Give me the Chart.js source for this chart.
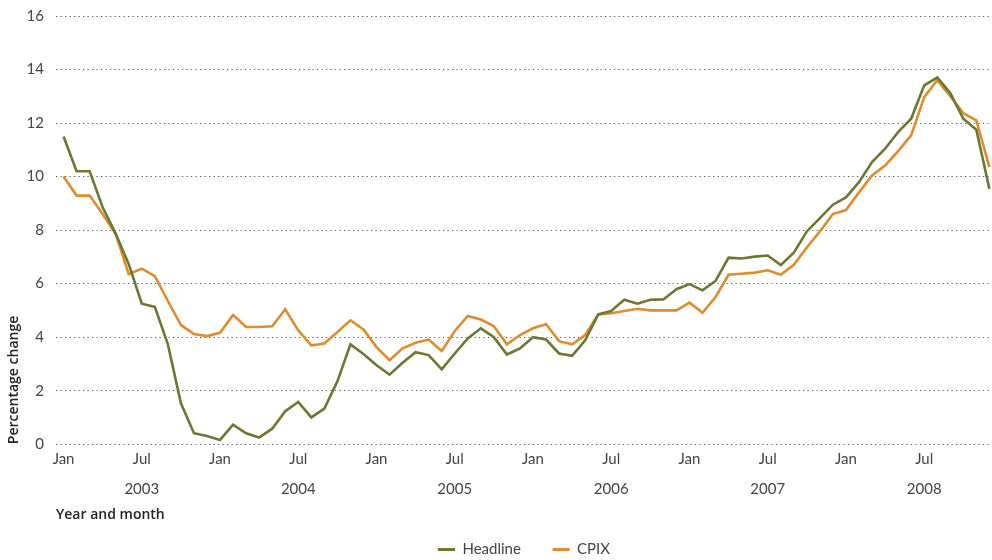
<!DOCTYPE html>
<html>
<head>
<meta charset="utf-8">
<script src="https://cdn.jsdelivr.net/npm/chart.js@4/dist/chart.umd.min.js"></script>
<style>
  html, body { margin: 0; padding: 0; background: #fff; }
  #wrap { width: 992px; height: 560px; }
</style>
</head>
<body>
<div id="wrap"><canvas id="c"></canvas></div>
<script>
// monthly, Jan 2003 .. Dec 2008 (index 0..71)
var years = ['2003', '2004', '2005', '2006', '2007', '2008'];
var tickMonths = [0, 6, 12, 18, 24, 30, 36, 42, 48, 54, 60, 66];
var yTicks = [0, 2, 4, 6, 8, 10, 12, 14, 16];

var headline = [
    11.5, 10.2, 10.2, 8.85, 7.86, 6.73, 5.25, 5.13, 3.73, 1.53, 0.41, 0.31,
    0.16, 0.73, 0.41, 0.25, 0.58, 1.23, 1.58, 1.0, 1.33, 2.35, 3.73, 3.37,
    2.95, 2.6, 3.04, 3.44, 3.33, 2.8, 3.39, 3.95, 4.33, 4.0, 3.35, 3.58,
    4.0, 3.91, 3.39, 3.3, 3.88, 4.85, 4.98, 5.4, 5.25, 5.4, 5.41, 5.79,
    5.98, 5.75, 6.1, 6.97, 6.94, 7.01, 7.05, 6.69, 7.16, 7.95, 8.45, 8.95,
    9.22, 9.79, 10.54, 11.04, 11.66, 12.16, 13.41, 13.7, 13.12, 12.16, 11.75, 9.54
];
var cpix = [
    10.0, 9.29, 9.29, 8.6, 7.85, 6.35, 6.56, 6.28, 5.35, 4.45, 4.12, 4.04,
    4.16, 4.83, 4.38, 4.38, 4.41, 5.04, 4.25, 3.69, 3.76, 4.19, 4.63, 4.29,
    3.63, 3.14, 3.58, 3.79, 3.91, 3.48, 4.23, 4.79, 4.66, 4.41, 3.73, 4.08,
    4.33, 4.48, 3.85, 3.73, 4.08, 4.85, 4.89, 4.98, 5.06, 5.0, 5.0, 5.0,
    5.29, 4.91, 5.5, 6.33, 6.37, 6.41, 6.5, 6.33, 6.7, 7.35, 7.95, 8.6,
    8.75, 9.41, 10.04, 10.41, 10.95, 11.54, 12.97, 13.6, 13.0, 12.37, 12.1, 10.35
];

var FONT = 'Lato, "Noto Sans", sans-serif';
var TITLE_FONT = '"Open Sans", Lato, sans-serif';
var GREEN = '#687a31';
var ORANGE = '#e08b2c';

function toPoints(arr) {
    var out = [];
    for (var i = 0; i < arr.length; i++) out.push({ x: i, y: arr[i] });
    return out;
}

var ctx = document.getElementById('c');
new Chart(ctx, {
    type: 'line',
    data: {
        datasets: [{
            label: 'Headline',
            data: toPoints(headline),
            borderColor: GREEN,
            backgroundColor: GREEN,
            borderWidth: 2.6,
            pointRadius: 0,
            tension: 0
        }, {
            label: 'CPIX',
            data: toPoints(cpix),
            borderColor: ORANGE,
            backgroundColor: ORANGE,
            borderWidth: 2.6,
            pointRadius: 0,
            tension: 0
        }]
    },
    options: {
        responsive: true,
        maintainAspectRatio: false,
        animation: false,
        layout: { padding: { top: 16, left: 4, right: 0, bottom: -7 } },
        plugins: {
            tooltip: { enabled: false },
            legend: {
                position: 'bottom',
                fullSize: false,
                labels: {
                    font: { family: FONT, size: 15, lineHeight: 1 },
                    color: '#444',
                    boxWidth: 17,
                    boxHeight: 3,
                    padding: 1,
                    generateLabels: function(chart) {
                        var items = Chart.defaults.plugins.legend.labels.generateLabels(chart);
                        items.forEach(function(it, i) {
                            it.lineWidth = 0;
                            it.fillStyle = it.strokeStyle;
                            // widen the gap between entries
                            if (i < items.length - 1) it.text = it.text + '        ';
                        });
                        return items;
                    }
                }
            }
        },
        scales: {
            x: {
                type: 'linear',
                min: -0.58,
                max: 71.2,
                grid: { display: false, drawTicks: false },
                border: { display: false },
                afterBuildTicks: function(scale) {
                    scale.ticks = tickMonths.map(function(v) { return { value: v }; });
                },
                ticks: {
                    autoSkip: false,
                    maxRotation: 0,
                    padding: 7,
                    color: '#444',
                    font: { family: FONT, size: 15, lineHeight: 1 },
                    callback: function(v) {
                        if (v % 12 === 0) return 'Jan';
                        return ['Jul', '', years[Math.floor(v / 12)]];
                    }
                },
                title: {
                    display: true,
                    text: 'Year and month',
                    align: 'start',
                    color: '#222',
                    font: { family: TITLE_FONT, size: 14, weight: '600' },
                    padding: { top: 3, bottom: 18 }
                }
            },
            y: {
                min: 0,
                max: 16,
                afterBuildTicks: function(scale) {
                    scale.ticks = yTicks.map(function(v) { return { value: v }; });
                },
                afterFit: function(scale) { scale.width = 52; },
                grid: {
                    color: '#555',
                    lineWidth: 1,
                    drawTicks: true,
                    tickLength: 12,
                    tickColor: 'rgba(0,0,0,0)'
                },
                border: { display: false, dash: [1.2, 3.3] },
                ticks: {
                    padding: 0,
                    color: '#444',
                    font: { family: FONT, size: 15 }
                },
                title: {
                    display: true,
                    text: 'Percentage change',
                    align: 'start',
                    color: '#222',
                    font: { family: TITLE_FONT, size: 14, weight: '600' },
                    padding: { top: 2, bottom: 0 }
                }
            }
        }
    }
});
</script>
</body>
</html>
